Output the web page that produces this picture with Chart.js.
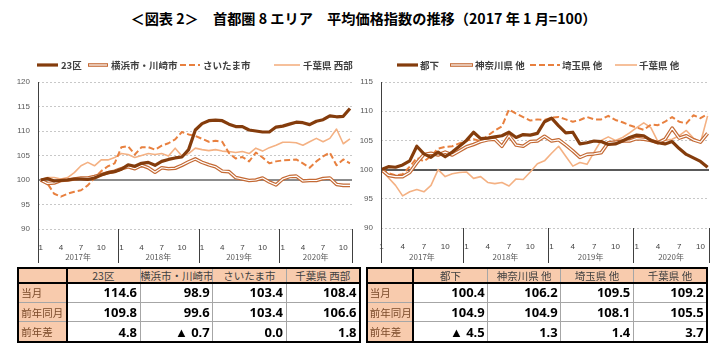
<!DOCTYPE html>
<html><head><meta charset="utf-8">
<script src="https://cdn.jsdelivr.net/npm/chart.js@4.4.0/dist/chart.umd.min.js"></script>
<style>
html,body{margin:0;padding:0;background:#fff;}
body{width:727px;height:358px;overflow:hidden;position:relative;font-family:"Noto Sans CJK JP","Noto Sans",sans-serif;}
#title{position:absolute;left:0;top:9px;width:727px;text-align:center;font-weight:bold;font-size:14.2px;line-height:18px;color:#000;white-space:nowrap;}
canvas{position:absolute;}
.cell{position:absolute;box-sizing:border-box;white-space:nowrap;overflow:hidden;}
.ln{position:absolute;}
</style></head>
<body>
<div id="title">＜図表 2＞　首都圏 8 エリア　平均価格指数の推移（2017 年 1 月=100）</div>
<canvas id="c1" width="360" height="215" style="left:0;top:55px;width:360px;height:215px"></canvas>
<canvas id="c2" width="367" height="215" style="left:360px;top:55px;width:367px;height:215px"></canvas>
<div id="tables"></div>
<script>
// ---- categories ----
const monthNums = [1,2,3,4,5,6,7,8,9,10,11,12, 1,2,3,4,5,6,7,8,9,10,11,12, 1,2,3,4,5,6,7,8,9,10,11,12, 1,2,3,4,5,6,7,8,9,10,11];
const yearLabels = ['2017年','2018年','2019年','2020年'];
const monthTickLabels = [1,4,7,10];
const yTicks = {left:[90,95,100,105,110,115,120], right:[90,95,100,105,110,115]};

// ---- left chart series ----
const leftNames = ['23区','横浜市・川崎市','さいたま市','千葉県 西部'];
const ku23 = [100,100.3,99.8,99.9,100,100.2,100.2,100.1,100.4,101,101.5,101.7,102.2,103.1,102.8,103.4,103.6,103,103.8,104.2,104.5,104.7,106.2,110.2,111.5,112.1,112.2,112.1,111.4,110.9,110.9,110.2,110,109.8,109.8,110.8,111,111.4,111.8,111.7,111.3,112,112.3,113.1,112.9,113,114.6];
const yokohama = [100,99.3,99.4,99.9,100,100.2,100.4,100.4,100.7,101.1,101.5,101.8,102.3,102.7,102.3,103,102.5,101.6,102.5,102.3,102.4,103,103.7,104.3,103.6,103.1,102.7,101.8,101.7,100.5,100.2,99.9,100.0,100.4,99.6,99.0,100.2,100.7,100.8,99.8,99.9,99.9,100.3,100.4,99.1,98.9,98.9];
const saitamaCity = [100,99.3,97.2,96.6,97.2,97.6,97.9,98.9,100.4,101.8,102.8,103.4,106.7,106.9,105.2,106.7,106.7,106.2,107.0,107.5,108.3,109.8,109.3,109.0,108.4,107.8,108.0,107.8,105.5,104.4,104.7,103.8,105.6,104.6,103.4,103.8,104.0,104.1,104.2,103.4,102.5,103.8,104.8,105.6,103.0,104.2,103.4];
const chibaWest = [100,100.5,100.5,100.2,100.5,101.5,102.9,103.6,102.9,104.1,104.1,104.6,105.4,105.2,104.6,105.0,105.4,105.2,105.4,104.9,106.5,104.9,105.4,106.5,106.2,106.0,106.2,105.9,105.8,105.6,105.8,105.4,106.5,105.9,106.6,107.1,107.7,107.7,107.6,107.1,107.8,108.5,107.8,108.5,110.4,107.4,108.4];

// ---- right chart series ----
const rightNames = ['都下','神奈川県 他','埼玉県 他','千葉県 他'];
const tokyoOther = [100,100.5,100.4,100.8,101.5,104.0,102.7,102.1,103.0,102.2,103.0,104.0,105.0,106.4,105.3,105.4,105.6,105.8,106.4,105.5,106.0,105.9,106.2,108.2,108.8,107.5,106.3,106.4,104.4,104.6,104.9,104.8,104.3,104.4,104.9,105.5,105.9,105.8,105.0,104.6,104.4,104.8,103.6,102.6,102.0,101.4,100.4];
const kanagawaOther = [100,99.0,98.8,98.8,99.5,101.2,102.6,102.8,102.5,103.0,102.5,103.2,103.9,104.3,104.8,105.1,105.2,104.0,105.8,104.2,104.0,104.8,104.9,105.7,104.9,105.1,104.2,103.2,102.1,102.6,102.7,102.9,104.6,104.7,104.9,104.9,105.3,105.2,105.0,104.6,105.2,107.1,105.4,105.8,105.1,104.7,106.2];
const saitamaOther = [100,99.4,99.0,99.2,100.5,102.0,101.4,102.3,103.6,103.9,104.0,104.5,105.0,105.2,104.9,105.8,106.7,107.4,110.3,109.6,109.0,108.4,108.6,108.5,108.9,109.0,108.6,108.2,108.5,109.0,108.6,108.6,109.2,108.5,108.1,107.6,107.2,106.8,107.7,107.6,108.2,109.0,108.2,107.9,109.3,108.8,109.5];
const chibaOther = [100,98.6,97.3,95.5,96.2,96.6,96.2,97.3,100.0,98.8,99.3,99.5,99.6,98.5,98.8,97.8,97.6,97.8,97.2,98.4,98.3,99.6,101.0,101.5,102.8,104.0,102.3,100.6,101.2,100.9,103.0,105.0,105.6,105.0,105.5,106.3,107.2,108.0,107.2,104.8,105.0,105.2,105.8,106.7,105.4,104.6,109.2];

// ---- table values ----
const rowLabels = ['当月','前年同月','前年差'];
const leftCurrent = [114.6, 98.9, 103.4, 108.4];
const leftPrev = [109.8, 99.6, 103.4, 106.6];
const leftDiff = [4.8, -0.7, 0.0, 1.8];
const rightCurrent = [100.4, 106.2, 109.5, 109.2];
const rightPrev = [104.9, 104.9, 108.1, 105.5];
const rightDiff = [-4.5, 1.3, 1.4, 3.7];

// ---- styles ----
const C_DARK = '#843c0c', C_MID = '#c46a35', C_DASH = '#e8803f', C_LIGHT = '#f4b183';
const FONT = '"Noto Sans CJK JP","Noto Sans",sans-serif';

function pts(arr){ return arr.map((v,i)=>({x:i,y:v})); }

function makeDatasets(names, s){
  return [
    {label:names[0], data:pts(s[0]), borderColor:C_DARK, borderWidth:3.2},
    {label:'', data:pts(s[1]), borderColor:'#ffffff', borderWidth:1.2},
    {label:names[1], data:pts(s[1]), borderColor:C_MID, borderWidth:3.6},
    {label:names[2], data:pts(s[2]), borderColor:C_DASH, borderWidth:2, borderDash:[6,3]},
    {label:names[3], data:pts(s[3]), borderColor:C_LIGHT, borderWidth:1.6}
  ];
}

const deco = {
  id:'deco',
  beforeDatasetsDraw(chart, args, o){
    const {ctx, chartArea:a} = chart, y = chart.scales.y;
    const py = Math.round(y.getPixelForValue(100));
    ctx.save();
    ctx.strokeStyle = o.baseColor; ctx.lineWidth = 2;
    ctx.beginPath(); ctx.moveTo(a.left, py); ctx.lineTo(a.right, py); ctx.stroke();
    ctx.restore();
  },
  afterDraw(chart, args, o){
    const {ctx, chartArea:a} = chart, x = chart.scales.x;
    ctx.save();
    ctx.strokeStyle = '#404040'; ctx.lineWidth = 1;
    const sepB = a.bottom + o.sepDepth;
    const seps = [a.left, ...o.yearBreaks.map(v=>x.getPixelForValue(v)), a.right];
    seps.forEach((sx,i)=>{
      const px = Math.round(sx)+0.5;
      ctx.beginPath(); ctx.moveTo(px, i===0 ? a.top : a.bottom); ctx.lineTo(px, sepB); ctx.stroke();
    });
    ctx.fillStyle = '#595959'; ctx.font = '8px ' + FONT; ctx.textAlign = 'center'; ctx.textBaseline = 'middle';
    for (let i=0;i<yearLabels.length;i++){
      ctx.fillText(yearLabels[i], (seps[i]+seps[i+1])/2, a.bottom + o.yearOffset);
    }
    const ds = chart.data.datasets;
    const items = [ds[0], ds[2], ds[3], ds[4]];
    ctx.textAlign = 'left'; ctx.font = 'bold 9.5px ' + FONT; ctx.fillStyle = '#404040';
    items.forEach((d,i)=>{
      const L = o.legend[i], ly = o.legendY;
      ctx.save();
      ctx.strokeStyle = d.borderColor; ctx.lineWidth = d.borderWidth;
      ctx.setLineDash(d.borderDash || []);
      ctx.beginPath(); ctx.moveTo(L[0], ly); ctx.lineTo(L[1], ly); ctx.stroke();
      if (i===1){
        ctx.strokeStyle = ds[1].borderColor; ctx.lineWidth = ds[1].borderWidth;
        ctx.beginPath(); ctx.moveTo(L[0]+1, ly); ctx.lineTo(L[1]-1, ly); ctx.stroke();
      }
      ctx.restore();
      ctx.fillText(d.label, L[2], ly+0.5);
    });
    ctx.restore();
  }
};

function makeChart(id, names, series, cfg){
  return new Chart(document.getElementById(id), {
    type:'line',
    data:{datasets:makeDatasets(names, series)},
    options:{
      responsive:false, animation:false, devicePixelRatio:1,
      layout:{padding:{top:cfg.top, right:cfg.right, left:0, bottom:0}},
      elements:{point:{radius:0}, line:{tension:0, borderCapStyle:'butt', borderJoinStyle:'round'}},
      plugins:{legend:{display:false}, tooltip:{enabled:false},
        deco:{baseColor:cfg.baseColor, yearBreaks:[11.5,23.5,35.5], sepDepth:cfg.sepDepth, yearOffset:cfg.yearOffset, legend:cfg.legend, legendY:10}},
      scales:{
        x:{type:'linear', min:cfg.xmin, max:cfg.xmax,
          afterFit:(s)=>{s.height = cfg.xh;},
          afterBuildTicks:(s)=>{ s.ticks = monthNums.map((m,i)=>({value:i, m:m})).filter(t=>monthTickLabels.includes(t.m)).map(t=>({value:t.value})); },
          ticks:{autoSkip:false, maxRotation:0, padding:cfg.tickPad, color:'#404040', font:{size:8, family:'"Liberation Sans",sans-serif'},
            callback:(v)=>String(monthNums[v])},
          grid:{display:false}, border:{display:false}},
        y:{min:cfg.ymin, max:cfg.ymax,
          afterFit:(s)=>{s.width = cfg.yw;},
          afterBuildTicks:(s)=>{ s.ticks = cfg.yticks.map(v=>({value:v})); },
          ticks:{padding:8, color:'#595959', font:{size:8, family:'"Liberation Sans",sans-serif'}},
          grid:{color:'#c8c8c8', lineWidth:1, drawTicks:false},
          border:{display:false, dash:[2,2]}}
      }
    },
    plugins:[deco]
  });
}

makeChart('c1', leftNames, [ku23, yokohama, saitamaCity, chibaWest], {
  top:27, right:8, xmin:-0.4, xmax:46.3, ymin:90, ymax:120, yticks:yTicks.left, xh:41, yw:38,
  tickPad:6, sepDepth:34, yearOffset:28, baseColor:'#8c8c8c',
  legend:[[37,58,61],[88,108,111],[180,200,203],[274,300,303]]
});
makeChart('c2', rightNames, [tokyoOther, kanagawaOther, saitamaOther, chibaOther], {
  top:27, right:18, xmin:-0.05, xmax:46.2, ymin:90, ymax:115, yticks:yTicks.right, xh:42, yw:21,
  tickPad:6, sepDepth:35, yearOffset:29, baseColor:'#595959',
  legend:[[37,58,60],[90,113,115],[170,200,202],[255,277,279]]
});

// ---- tables ----
function fmt(v){ return v < 0 ? '▲ ' + Math.abs(v).toFixed(1) : v.toFixed(1); }
function makeTable(cols, rows, heads, vals){
  const root = document.getElementById('tables');
  const add = (cls, st, txt) => { const d = document.createElement('div'); d.className = cls; Object.assign(d.style, st); if (txt !== undefined) d.textContent = txt; root.appendChild(d); return d; };
  const px = v => v + 'px';
  for (let r=0;r<4;r++){
    for (let c=0;c<5;c++){
      const x0 = cols[c], x1 = cols[c+1], y0 = rows[r], y1 = rows[r+1];
      const peach = (r===0 || c===0);
      let txt = '', st = {left:px(x0), top:px(y0), width:px(x1-x0), height:px(y1-y0), lineHeight:px(y1-y0), background: peach ? '#f8cbad' : '#ffffff'};
      if (r===0 && c>0){ txt = heads[c-1]; Object.assign(st,{textAlign:'center', color:'#404040', fontSize:'10.5px'}); }
      else if (r>0 && c===0){ txt = rowLabels[r-1]; Object.assign(st,{textAlign:'left', paddingLeft:'3px', color:'#7a4a2a', fontSize:'10.5px'}); }
      else if (r>0){ txt = fmt(vals[r-1][c-1]); Object.assign(st,{textAlign:'right', paddingRight:'3px', color:'#000', fontWeight:'bold', fontSize:'13px', fontFamily:'"Noto Sans",sans-serif'}); }
      add('cell', st, txt);
    }
  }
  for (let c=2;c<5;c++) add('ln',{left:px(cols[c]-0.5), top:px(rows[0]), width:'1px', height:px(rows[4]-rows[0]), background:'#a6a6a6'});
  for (let r=2;r<4;r++) add('ln',{left:px(cols[0]), top:px(rows[r]-0.5), width:px(cols[5]-cols[0]), height:'1px', background:'#a6a6a6'});
  add('ln',{left:px(cols[1]-1), top:px(rows[0]), width:'2px', height:px(rows[4]-rows[0]), background:'#000'});
  add('ln',{left:px(cols[0]), top:px(rows[1]-1), width:px(cols[5]-cols[0]), height:'2px', background:'#000'});
  add('ln',{left:px(cols[0]-1), top:px(rows[0]-1), width:px(cols[5]-cols[0]+2), height:'2px', background:'#000'});
  add('ln',{left:px(cols[0]-1), top:px(rows[4]-1), width:px(cols[5]-cols[0]+2), height:'2px', background:'#000'});
  add('ln',{left:px(cols[0]-1), top:px(rows[0]-1), width:'2px', height:px(rows[4]-rows[0]+2), background:'#000'});
  add('ln',{left:px(cols[5]-1), top:px(rows[0]-1), width:'2px', height:px(rows[4]-rows[0]+2), background:'#000'});
}
const tRows = [267.7, 283.3, 302.7, 321.7, 341.7];
makeTable([18.3, 66.7, 140, 212.7, 286, 359.5], tRows, leftNames, [leftCurrent, leftPrev, leftDiff]);
makeTable([366.7, 413.3, 487.7, 560.7, 633.3, 706.7], tRows, rightNames, [rightCurrent, rightPrev, rightDiff]);
</script>
</body></html>
